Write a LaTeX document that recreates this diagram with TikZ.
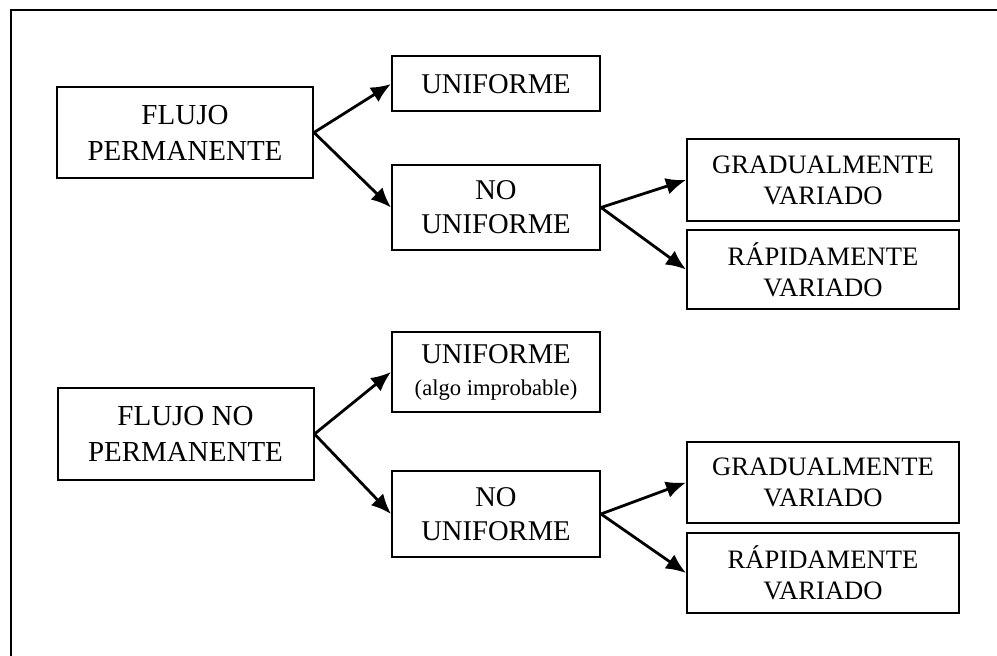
\documentclass[tikz,border=0pt]{standalone}
\usepackage{fontspec}
\setmainfont{Liberation Serif}
\usetikzlibrary{arrows.meta}
\begin{document}
\begin{tikzpicture}[x=0.5pt,y=-0.5pt,
  box/.style={draw=black,line width=1pt,inner sep=0pt,align=center,rectangle},
  leftbox/.style={box,minimum width=128pt,font=\fontsize{14.5}{18}\selectfont},
  midbox/.style={box,minimum width=104pt,font=\fontsize{14.3}{17}\selectfont},
  rightbox/.style={box,minimum width=136pt,font=\fontsize{13.3}{15.5}\selectfont},
  conn/.style={line width=1.4pt,-{Latex[length=10pt,width=8.5pt]}},
  frameline/.style={line width=1.1pt}]
\useasboundingbox (0,0) rectangle (997,656);
\coordinate (fa) at (11,656);
\coordinate (fb) at (11,10);
\coordinate (fc) at (997,10);
\draw[frameline] (fa) -- (fb) -- (fc);
% top section
\node[leftbox,minimum height=45.5pt] (fp) at (185,132.5) {FLUJO\\PERMANENTE};
\node[midbox,minimum height=27.5pt] (u1) at (496,84) {UNIFORME};
\node[midbox,minimum height=42.5pt] (nu1) at (496,207.5) {NO\\UNIFORME};
\node[rightbox,minimum height=41pt] (gv1) at (823,180) {GRADUALMENTE\\VARIADO};
\node[rightbox,minimum height=39.5pt] (rv1) at (823,269.5) {RÁPIDAMENTE\\VARIADO};
% bottom section
\node[leftbox,minimum height=46pt] (fnp) at (185.5,434) {FLUJO NO\\PERMANENTE};
\node[midbox,minimum height=40pt] (u2) at (496,372) {UNIFORME\\[-1pt]{\fontsize{11.3}{13}\selectfont(algo improbable)}};
\node[midbox,minimum height=43pt] (nu2) at (496,514) {NO\\UNIFORME};
\node[rightbox,minimum height=40.5pt] (gv2) at (823,482.5) {GRADUALMENTE\\VARIADO};
\node[rightbox,minimum height=40pt] (rv2) at (823,573) {RÁPIDAMENTE\\VARIADO};
% connectors
\draw[conn] (fp.east) -- (u1.west);
\draw[conn] (fp.east) -- (nu1.west);
\draw[conn] (nu1.east) -- (gv1.west);
\draw[conn] (nu1.east) -- (rv1.west);
\draw[conn] (fnp.east) -- (u2.west);
\draw[conn] (fnp.east) -- (nu2.west);
\draw[conn] (nu2.east) -- (gv2.west);
\draw[conn] (nu2.east) -- (rv2.west);
\end{tikzpicture}
\end{document}
